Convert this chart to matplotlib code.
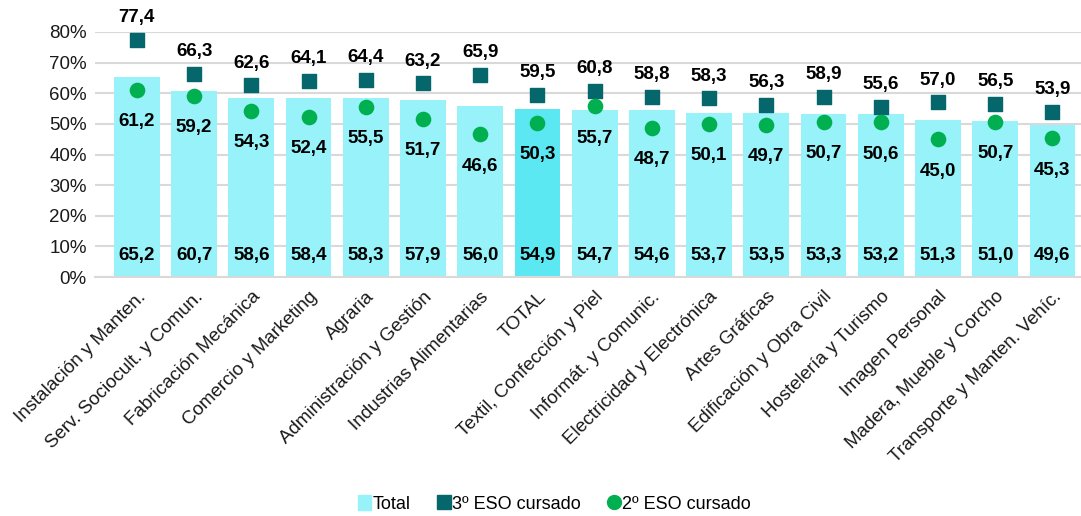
import numpy as np
import matplotlib
matplotlib.use("Agg")
import matplotlib.pyplot as plt
from matplotlib.ticker import PercentFormatter
from matplotlib.lines import Line2D
from matplotlib.patches import Patch

plt.rcParams['font.family'] = ['Liberation Sans', 'DejaVu Sans']

familias = ["Instalación y Manten.", "Serv. Sociocult. y Comun.", "Fabricación Mecánica",
            "Comercio y Marketing", "Agraria", "Administración y Gestión",
            "Industrias Alimentarias", "TOTAL", "Textil, Confección y Piel",
            "Informát. y Comunic.", "Electricidad y Electrónica", "Artes Gráficas",
            "Edificación y Obra Civil", "Hostelería y Turismo", "Imagen Personal",
            "Madera, Mueble y Corcho", "Transporte y Manten. Vehíc."]
total = [65.2, 60.7, 58.6, 58.4, 58.3, 57.9, 56.0, 54.9, 54.7, 54.6, 53.7, 53.5,
         53.3, 53.2, 51.3, 51.0, 49.6]
eso3 = [77.4, 66.3, 62.6, 64.1, 64.4, 63.2, 65.9, 59.5, 60.8, 58.8, 58.3, 56.3,
        58.9, 55.6, 57.0, 56.5, 53.9]
eso2 = [61.2, 59.2, 54.3, 52.4, 55.5, 51.7, 46.6, 50.3, 55.7, 48.7, 50.1, 49.7,
        50.7, 50.6, 45.0, 50.7, 45.3]

c_bar = "#97F3F9"
c_total = "#5CE8F2"
c_sq = "#05676B"
c_dot = "#00B050"

fig = plt.figure(figsize=(10.81, 5.16), dpi=100)
ax = fig.add_axes([0.088, 0.463, 0.912, 0.475])

x = np.arange(len(familias))
t = np.array(total) / 100
e3 = np.array(eso3) / 100
e2 = np.array(eso2) / 100
colors = [c_total if f == "TOTAL" else c_bar for f in familias]

ax.bar(x, t, width=0.8, color=colors, zorder=2)
ax.scatter(x, e3, marker="s", s=95, color=c_sq, zorder=3)
ax.scatter(x, e2, marker="o", s=105, color=c_dot, zorder=4)

fmt = lambda v: f"{v:.1f}".replace(".", ",")
for i in range(len(x)):
    ax.annotate(fmt(total[i]), (x[i], 0.07), ha="center", va="center",
                fontsize=13.5, fontweight="bold", zorder=5)
    ax.annotate(fmt(eso3[i]), (x[i], e3[i]), xytext=(0, 16), textcoords="offset points",
                ha="center", va="center", fontsize=13.5, fontweight="bold",
                annotation_clip=False, zorder=5)
    ax.annotate(fmt(eso2[i]), (x[i], e2[i]), xytext=(0, -23), textcoords="offset points",
                ha="center", va="center", fontsize=13.5, fontweight="bold", zorder=5)

ax.set_ylim(0, 0.8)
ax.set_xlim(-0.73, 16.5)
ax.set_yticks(np.arange(0, 0.81, 0.1))
ax.yaxis.set_major_formatter(PercentFormatter(1.0, decimals=0))
ax.grid(axis="y", color="#D9D9D9", linewidth=1.5, zorder=0)
for s in ["top", "right", "left"]:
    ax.spines[s].set_visible(False)
ax.spines["bottom"].set_color("#D9D9D9")
ax.spines["bottom"].set_linewidth(1.5)
ax.tick_params(axis="both", length=0, labelsize=13.5, colors="#1a1a1a")
ax.tick_params(axis="y", pad=6)
ax.tick_params(axis="x", pad=8)
ax.set_xticks(x)
ax.set_xticklabels(familias, rotation=45, ha="right", rotation_mode="anchor")

handles = [Patch(color=c_bar),
           Line2D([], [], marker="s", ls="none", color=c_sq, markersize=10),
           Line2D([], [], marker="o", ls="none", color=c_dot, markersize=10)]
fig.legend(handles, ["Total", "3º ESO cursado", "2º ESO cursado"],
           loc="lower center", bbox_to_anchor=(0.513, -0.025), ncol=3, frameon=False,
           fontsize=13, handlelength=0.7, handleheight=0.9, handletextpad=0.1,
           columnspacing=1.5)

fig.savefig("out.png", dpi=100)
